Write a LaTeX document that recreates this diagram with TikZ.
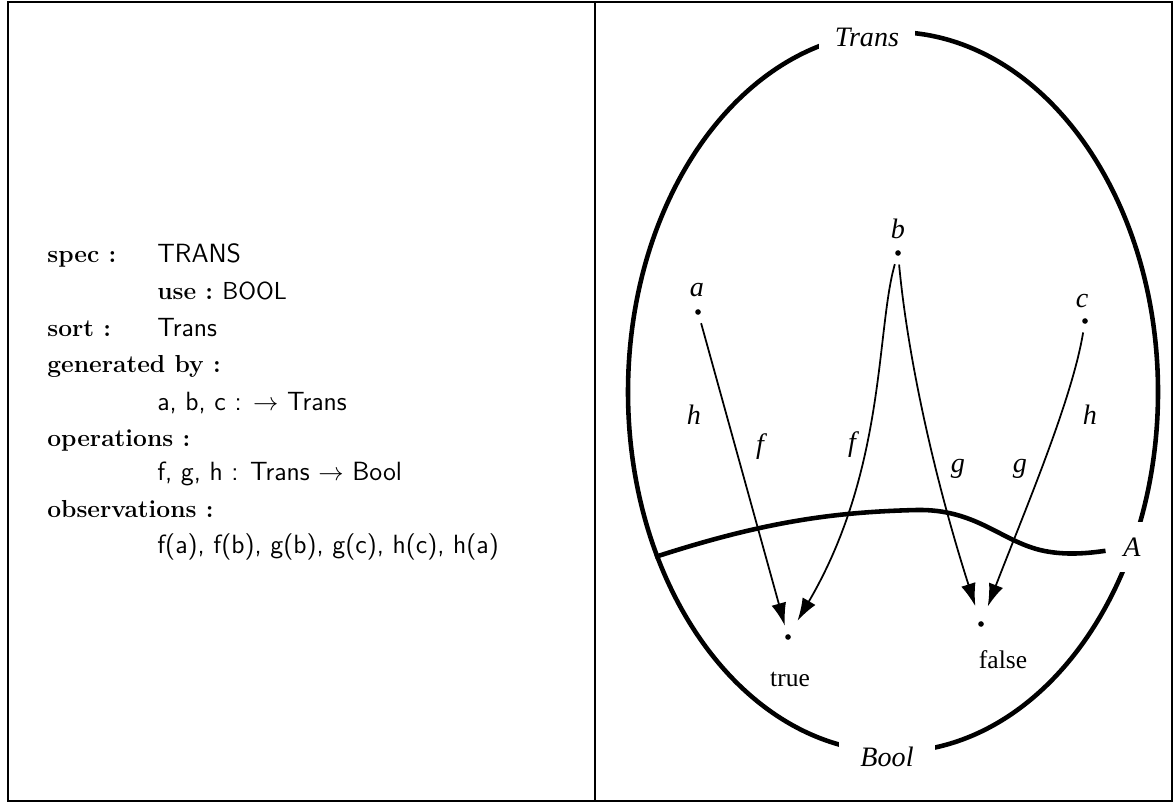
\documentclass[tikz,border=0pt]{standalone}
\usepackage{fontspec}
\newfontfamily\timesfont{Liberation Serif}
\usetikzlibrary{arrows.meta,positioning}
\tikzset{
  framebox/.style={line width=1.4pt},
  setline/.style={line width=2.6pt},
  mapline/.style={
    -{Latex[length=13pt, width=8.5pt]}, line width=1pt
  },
  elemdot/.style={circle, fill, inner sep=0pt, minimum size=3.2pt, outer sep=5pt},
  speckey/.style={anchor=base west, inner sep=0pt,
                  font=\fontsize{14}{17}\selectfont\bfseries},
  specval/.style={anchor=base west, inner sep=0pt,
                  font=\fontsize{15}{18}\selectfont\sffamily},
  setlabel/.style={fill=white, inner ysep=4pt,
                   font=\fontsize{16}{18}\selectfont\timesfont\itshape},
  maplabel/.style={font=\fontsize{16}{18}\selectfont\timesfont\itshape},
  vallabel/.style={font=\fontsize{14.5}{16}\selectfont\timesfont}
}

\begin{document}
\begin{tikzpicture}[x=0.02cm, y=-0.02cm]
  \useasboundingbox (0,0) rectangle (1175,803);

  % frame
  \draw[framebox] (8,2) rectangle (1172,801);
  \draw[framebox] (595,2) -- (595,801);

  % specification
  \node[speckey] (spec)    at (47,263)  {spec :};
  \node[specval] (specnm)  at (157,263) {TRANS};
  \node[speckey] (use)     at (157,300) {use :\ \normalfont\sffamily BOOL};
  \node[speckey] (sort)    at (47,337)  {sort :};
  \node[specval] (sortnm)  at (157,337) {Trans};
  \node[speckey] (gen)     at (47,373)  {generated by :};
  \node[specval] (genline) at (157,410) {a, b, c : $\rightarrow$ Trans};
  \node[speckey] (ops)     at (47,446)  {operations :};
  \node[specval] (opsline) at (157,480) {f, g, h : Trans $\rightarrow$ Bool};
  \node[speckey] (obs)     at (47,517)  {observations :};
  \node[specval] (obsline) at (157,553) {f(a), f(b), g(b), g(c), h(c), h(a)};

  % the carrier sets
  \draw[setline] (893,392) ellipse [x radius=265, y radius=360];
  \node[setlabel, inner xsep=9pt]  (Trans) at (867,37)  {Trans};
  \node[setlabel, inner xsep=12pt] (Bool)  at (887,757) {Bool};
  \node[setlabel, inner xsep=10pt, inner ysep=9pt] (A) at (1132,547) {A};
  \coordinate (Astart) at (655,557);
  \draw[setline] (Astart) .. controls (760,523) and (830,512) .. (917,510)
    .. controls (975,509) and (1000,540) .. (1040,550)
    .. controls (1065,556) and (1090,553) .. (A);

  % elements
  \node[elemdot] (a) at (698,312) {};
  \node[elemdot] (b) at (898,253) {};
  \node[elemdot] (c) at (1085,321) {};
  \node[elemdot] (true)  at (788,637) {};
  \node[elemdot] (false) at (981,624) {};
  \node[maplabel] (la) at (697,290)  {a};
  \node[maplabel] (lb) at (898,229)  {b};
  \node[maplabel] (lc) at (1082,301) {c};
  \node[vallabel] (ltrue)  at (790,679)  {true};
  \node[vallabel] (lfalse) at (1003,660) {false};

  % observations
  \draw[mapline] (a) -- (true);
  \draw[mapline, shorten >=4pt] (b) .. controls (876,330) and (886,470) .. (true);
  \draw[mapline, shorten >=4pt] (b) .. controls (908,360) and (935,480) .. (false);
  \draw[mapline, shorten >=4pt] (c) .. controls (1072,400) and (1025,510) .. (false);
  \node[maplabel] (ha) at (694,415)  {h};
  \node[maplabel] (fa) at (760,447)  {f};
  \node[maplabel] (fb) at (852,445)  {f};
  \node[maplabel] (gb) at (958,469)  {g};
  \node[maplabel] (gc) at (1020,469) {g};
  \node[maplabel] (hc) at (1090,415) {h};
\end{tikzpicture}
\end{document}
